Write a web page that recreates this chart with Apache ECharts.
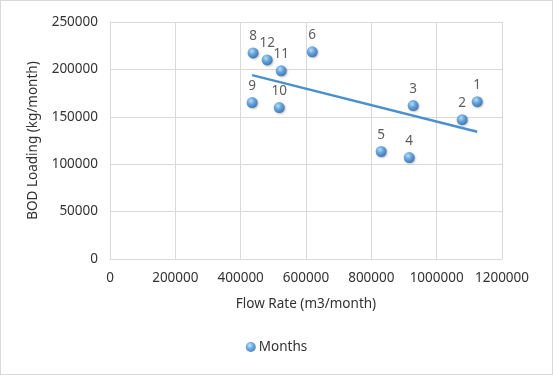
<!DOCTYPE html>
<html>
<head>
<meta charset="utf-8">
<script src="https://cdn.jsdelivr.net/npm/echarts@6/dist/echarts.min.js"></script>
<style>
  html, body { margin: 0; padding: 0; background: #fff; }
  #chart { width: 551px; height: 373px; border: 1px solid #d9d9d9; }
</style>
</head>
<body>
<div id="chart"></div>
<script>
const months = ["1", "2", "3", "4", "5", "6", "8", "9", "10", "11", "12"];
const flowRate = [1124000, 1078000, 928000, 916000, 830000, 619000, 438000, 435000, 518000, 524000, 481000];
const bodLoading = [166000, 147000, 161800, 107000, 113400, 218500, 217400, 165000, 159700, 198500, 210000];

// least squares trendline from the points
const n = flowRate.length;
const mx = flowRate.reduce((a, b) => a + b, 0) / n;
const my = bodLoading.reduce((a, b) => a + b, 0) / n;
let sxy = 0, sxx = 0;
for (let i = 0; i < n; i++) {
  sxy += (flowRate[i] - mx) * (bodLoading[i] - my);
  sxx += (flowRate[i] - mx) * (flowRate[i] - mx);
}
const slope = sxy / sxx;
const icpt = my - slope * mx;
const x0 = Math.min(...flowRate), x1 = Math.max(...flowRate);
const trend = [[x0, icpt + slope * x0], [x1, icpt + slope * x1]];

const ball = {
  type: "radial", x: 0.4, y: 0.35, r: 0.7,
  colorStops: [
    { offset: 0, color: "#bfe0ff" },
    { offset: 0.45, color: "#4a9be0" },
    { offset: 1, color: "#1d5ea8" }
  ]
};

const chart = echarts.init(document.getElementById("chart"));
const font = "'Noto Sans', sans-serif";
const txt = "#333333";
const plain = (v) => String(v);
chart.setOption({
  animation: false,
  textStyle: { fontFamily: font, color: txt },
  grid: { left: 109, right: 50, top: 21, bottom: 115 },
  xAxis: {
    type: "value", min: 0, max: 1200000, interval: 200000,
    name: "Flow Rate (m3/month)", nameLocation: "middle", nameGap: 38,
    nameTextStyle: { fontSize: 13.5, color: txt, fontFamily: font },
    axisLine: { show: true, lineStyle: { color: "#d9d9d9" } },
    axisTick: { show: false },
    axisLabel: { fontSize: 13.5, color: txt, margin: 12, fontFamily: font, formatter: plain },
    splitLine: { show: true, lineStyle: { color: "#d9d9d9" } }
  },
  yAxis: {
    type: "value", min: 0, max: 250000, interval: 50000,
    name: "BOD Loading (kg/month)", nameLocation: "middle", nameGap: 70,
    nameTextStyle: { fontSize: 13.5, color: txt, fontFamily: font },
    axisLine: { show: true, lineStyle: { color: "#d9d9d9" } },
    axisTick: { show: false },
    axisLabel: { fontSize: 13.5, color: txt, margin: 12, fontFamily: font, formatter: plain },
    splitLine: { show: true, lineStyle: { color: "#d9d9d9" } }
  },
  legend: {
    bottom: 15, left: "center", itemWidth: 10, itemHeight: 10, itemGap: 4,
    textStyle: { fontSize: 13.5, color: txt, fontFamily: font, padding: [0, 0, 0, -2] },
    data: [{ name: "Months", icon: "circle" }]
  },
  series: [
    {
      name: "Months", type: "scatter", symbolSize: 11,
      itemStyle: { color: ball, shadowColor: "rgba(0,0,0,0.3)", shadowBlur: 2, shadowOffsetX: 1, shadowOffsetY: 1 },
      label: {
        show: true, position: "top", distance: 4,
        fontSize: 13.5, color: txt, fontFamily: font,
        formatter: (p) => months[p.dataIndex]
      },
      data: flowRate.map((x, i) => [x, bodLoading[i]]),
      z: 3
    },
    {
      name: "trend", type: "line", data: trend, symbol: "none",
      lineStyle: { color: "#4a90cf", width: 2.5 },
      silent: true, z: 2
    }
  ]
});
</script>
</body>
</html>
